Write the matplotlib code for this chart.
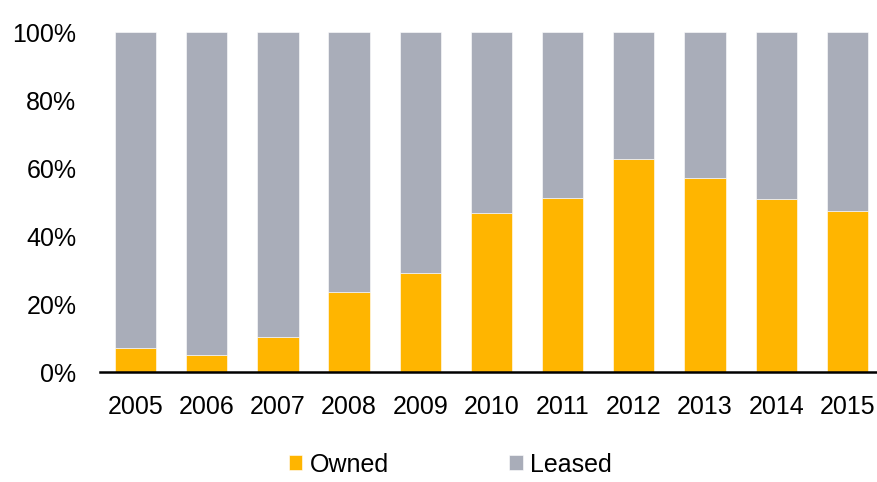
import matplotlib
matplotlib.use("Agg")
import matplotlib.pyplot as plt
from matplotlib.ticker import PercentFormatter

# data (share of fleet, %)
years = ["2005", "2006", "2007", "2008", "2009", "2010",
         "2011", "2012", "2013", "2014", "2015"]
owned = [7.1, 5.1, 10.3, 23.5, 29.1, 46.8, 51.2, 62.7, 57.1, 50.8, 47.3]
leased = [100 - v for v in owned]

plt.rcParams['font.family'] = ['Liberation Sans', 'DejaVu Sans']

fig = plt.figure(figsize=(8.78, 4.82), dpi=100)
ax = fig.add_axes([0.1139, 0.2282, 0.8861, 0.7054])

x = range(len(years))
ax.bar(x, owned, width=0.58, color="#FFB500", edgecolor="white",
       linewidth=0.4, label="Owned")
ax.bar(x, leased, width=0.58, bottom=owned, color="#A9ADB9",
       edgecolor="white", linewidth=0.4, label="Leased")

ax.set_ylim(0, 100)
ax.set_xlim(-0.5, 10.43)
ax.set_yticks([0, 20, 40, 60, 80, 100])
ax.yaxis.set_major_formatter(PercentFormatter(decimals=0))
ax.set_xticks(list(x))
ax.set_xticklabels(years)
ax.tick_params(axis='y', length=0, pad=17, labelsize=18)
ax.tick_params(axis='x', length=0, pad=16.5, labelsize=18)

for s in ['top', 'right', 'left']:
    ax.spines[s].set_visible(False)
ax.spines['bottom'].set_linewidth(1.8)
ax.spines['bottom'].set_color('black')

fig.legend(loc='center', bbox_to_anchor=(0.513, 0.036), ncol=2,
           frameon=False, fontsize=18, handlelength=0.55,
           handleheight=0.55, handletextpad=0.3, columnspacing=4.8)

fig.savefig("out.png", dpi=100)
